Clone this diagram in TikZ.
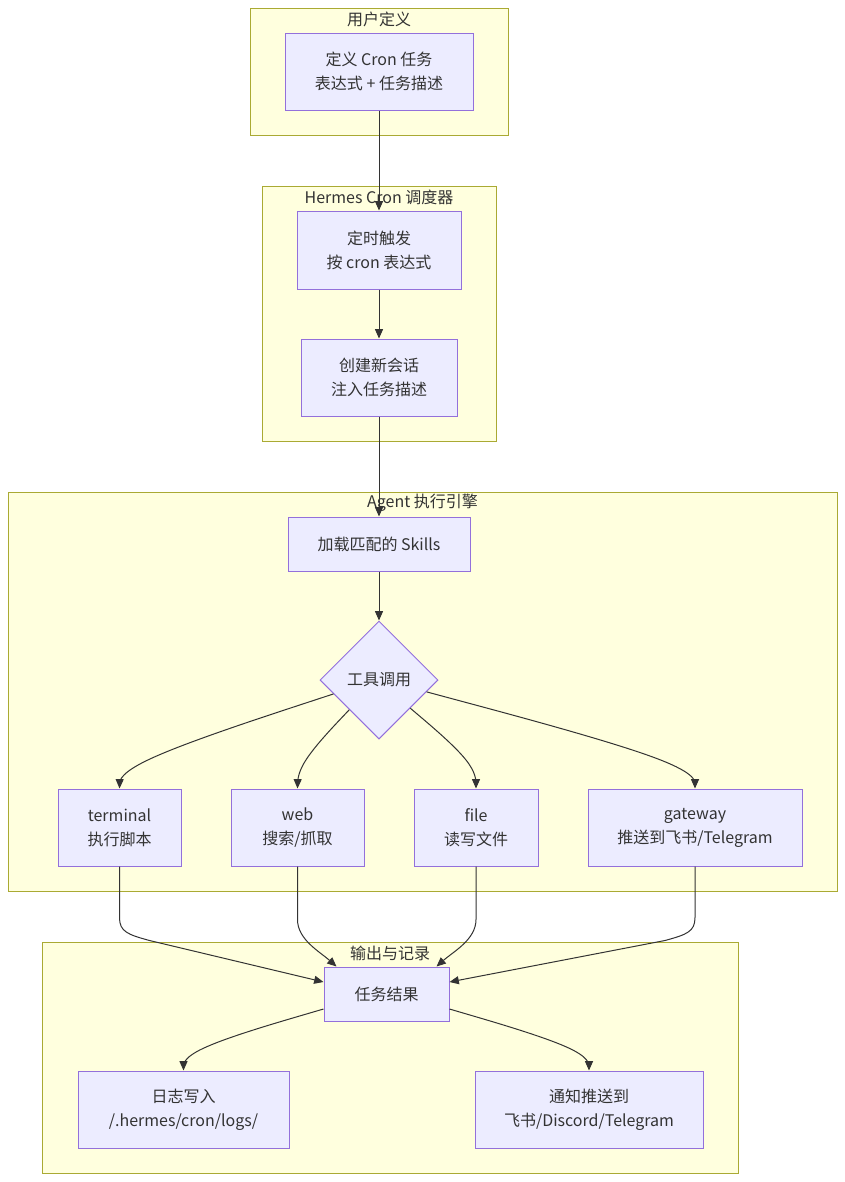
\documentclass[tikz,border=0pt]{standalone}
\usepackage{fontspec}
\setmainfont{Noto Sans CJK SC}
\usetikzlibrary{shapes.geometric,arrows.meta,calc}
\definecolor{nodefill}{HTML}{ECECFF}
\definecolor{nodeline}{HTML}{9370DB}
\definecolor{clfill}{HTML}{FFFFDE}
\definecolor{clline}{HTML}{AAAA33}
\definecolor{ink}{HTML}{333333}
\newcommand\bspline[3]{(#1) -- ($0.8333*(#1)+0.1667*(#2)$) .. controls ($0.6667*(#1)+0.3333*(#2)$) and ($0.3333*(#1)+0.6667*(#2)$) .. ($0.1667*(#1)+0.6667*(#2)+0.1667*(#3)$) .. controls ($0.6667*(#2)+0.3333*(#3)$) and ($0.3333*(#2)+0.6667*(#3)$) .. ($0.1667*(#2)+0.8333*(#3)$) -- (#3)}
\tikzset{
  wh/.style 2 args={minimum width=#1*0.75pt, minimum height=#2*0.75pt},
  box/.style={draw=nodeline, fill=nodefill, line width=0.75pt, text=ink, align=center, inner sep=0pt, font=\fontsize{12}{18}\selectfont},
  decision/.style={diamond, aspect=1, draw=nodeline, fill=nodefill, line width=0.75pt, text=ink, inner sep=0pt, minimum size=118*0.75pt, font=\fontsize{12}{18}\selectfont},
  cluster/.style={draw=clline, fill=clfill, line width=0.75pt, inner sep=0pt},
  cltitle/.style={text=ink, inner sep=0pt, font=\fontsize{12}{18}\selectfont},
  arr/.style={draw=ink, line width=0.75pt, -{Triangle[length=7pt,width=6pt]}}
}
\begin{document}
\begin{tikzpicture}[x=0.75pt, y=-0.75pt]
\useasboundingbox[fill=white] (0,0) rectangle (845,1182);
% clusters
\node[cluster, wh={258}{127}] (c1) at (379,71.5) {};
\node[cltitle] (c1t) at (379,19) {用户定义};
\node[cluster, wh={234}{255}] (c2) at (379,313.5) {};
\node[cltitle] (c2t) at (379,197) {Hermes Cron 调度器};
\node[cluster, wh={829}{399}] (c3) at (422.5,691.5) {};
\node[cltitle] (c3t) at (422.5,503) {Agent 执行引擎};
\node[cluster, wh={696}{231}] (c4) at (390,1057.5) {};
\node[cltitle] (c4t) at (390,953) {输出与记录};
% nodes
\node[box, wh={188}{77}] (A) at (379,71.5) {定义 Cron 任务\\表达式 + 任务描述};
\node[box, wh={164}{78}] (B) at (379,250) {定时触发\\按 cron 表达式};
\node[box, wh={156}{77}] (C) at (379,377.5) {创建新会话\\注入任务描述};
\node[box, wh={182}{54}] (D) at (379,544) {加载匹配的 Skills};
\node[decision] (E) at (379,680) {工具调用};
\node[box, wh={123}{77}] (F1) at (119.5,827.5) {terminal\\执行脚本};
\node[box, wh={133}{77}] (F2) at (297.5,827.5) {web\\搜索/抓取};
\node[box, wh={124}{77}] (F3) at (476,827.5) {file\\读写文件};
\node[box, wh={214}{77}] (F4) at (695,827.5) {gateway\\推送到飞书/Telegram};
\node[box, wh={125}{54}] (G) at (386.5,994) {任务结果};
\node[box, wh={211}{77}] (H) at (183.5,1109.5) {日志写入\\/.hermes/cron/logs/};
\node[box, wh={228}{77}] (I) at (589,1109.5) {通知推送到\\飞书/Discord/Telegram};
% helper points
\coordinate (m1) at (120,764);
\coordinate (m2) at (298,764);
\coordinate (m3) at (476,764);
\coordinate (m4) at (695,764);
\coordinate (m5) at (183.5,1050);
\coordinate (m6) at (589,1050);
\coordinate (g1) at ($(G.west)+(0,15)$);
\coordinate (g2) at ($(G.east)+(0,15)$);
% edges
\draw[arr] (A) -- (B);
\draw[arr] (B) -- (C);
\draw[arr] (C) -- (D);
\draw[arr] (D) -- (E);
\draw[arr] \bspline{E.197}{m1}{F1.north};
\draw[arr] \bspline{E.south west}{m2}{F2.north};
\draw[arr] \bspline{E.-42}{m3}{F3.north};
\draw[arr] \bspline{E.-14}{m4}{F4.north};
\draw[arr] (F1.south) -- ($(F1.south)+(0,51)$) .. controls ($(F1.south)+(0,65)$) and ($(F1.south)+(8,68)$) .. ($(F1.south)+(30,74)$) -- ($(G.west)+(0,-12)$);
\draw[arr] (F2.south) -- ($(F2.south)+(0,53)$) .. controls ($(F2.south)+(0,73)$) and ($(G.north)+(-67,-15)$) .. ($(G.north)+(-50,0)$);
\draw[arr] (F3.south) -- ($(F3.south)+(0,53)$) .. controls ($(F3.south)+(0,73)$) and ($(G.north)+(67,-15)$) .. ($(G.north)+(50,0)$);
\draw[arr] (F4.south) -- ($(F4.south)+(0,51)$) .. controls ($(F4.south)+(0,65)$) and ($(F4.south)+(-8,68)$) .. ($(F4.south)+(-30,74)$) -- ($(G.east)+(0,-12)$);
\draw[arr] \bspline{g1}{m5}{H.north};
\draw[arr] \bspline{g2}{m6}{I.north};
\end{tikzpicture}
\end{document}
